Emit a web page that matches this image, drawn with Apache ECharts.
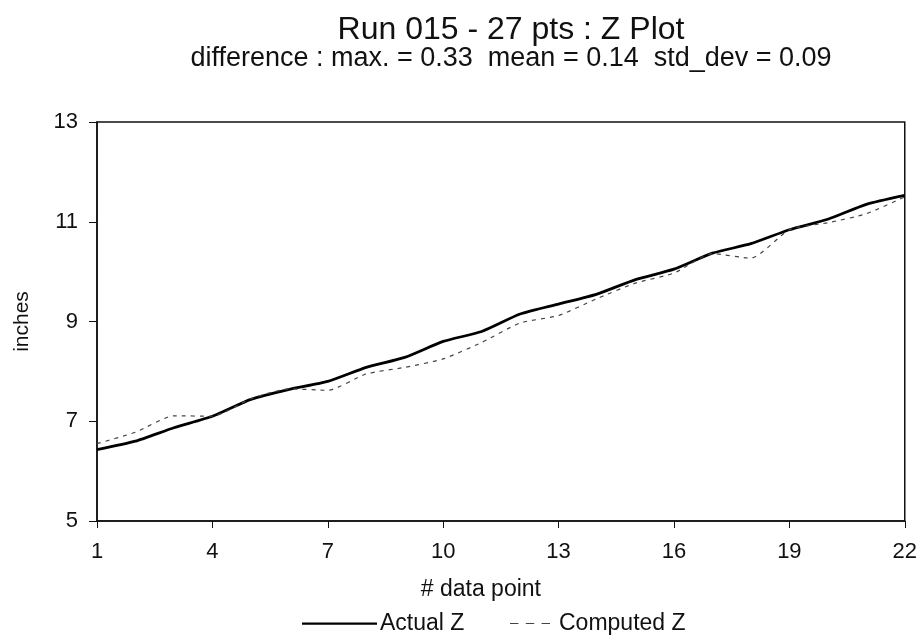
<!DOCTYPE html>
<html><head><meta charset="utf-8">
<script src="https://cdn.jsdelivr.net/npm/echarts@6/dist/echarts.min.js"></script>
<style>html,body{margin:0;padding:0;background:#fff}#c{width:920px;height:636px}</style>
</head><body><div id="c"></div>
<script>
const categories = ['1','2','3','4','5','6','7','8','9','10','11','12','13','14','15','16','17','18','19','20','21','22'];
const actualZ   = [6.43,6.60,6.87,7.10,7.44,7.64,7.80,8.08,8.28,8.60,8.80,9.15,9.35,9.55,9.84,10.05,10.37,10.56,10.84,11.05,11.35,11.53];
const computedZ = [6.55,6.78,7.11,7.10,7.45,7.65,7.62,7.95,8.08,8.25,8.58,8.97,9.12,9.46,9.77,9.97,10.36,10.27,10.84,10.98,11.16,11.50];
const yTicks = {min:5, max:13, interval:2};
const titleText = 'Run 015 - 27 pts : Z Plot';
const subtitleText = 'difference : max. = 0.33  mean = 0.14  std_dev = 0.09';

const chart = echarts.init(document.getElementById('c'));
const font = 'Liberation Sans, Arial, sans-serif';
chart.setOption({
  backgroundColor:'#fff',
  animation:false,
  title:[
    {text:titleText, left:506, textAlign:'center', top:9,
     textStyle:{fontFamily:font,fontSize:32,fontWeight:'normal',color:'#111'}},
    {text:subtitleText, left:506, textAlign:'center', top:40,
     textStyle:{fontFamily:font,fontSize:27,fontWeight:'normal',color:'#111'}}
  ],
  grid:{left:97,right:15,top:122,bottom:115,show:true,borderColor:'#111',borderWidth:1.5},
  legend:[
    {data:[{name:'Actual Z',icon:'path://M0,0H100V3H0Z'}], left:297, top:607,
     itemWidth:75, itemHeight:2.5, itemGap:0,
     textStyle:{fontFamily:font,fontSize:23,color:'#111',padding:[0,0,0,-2]}},
    {data:[{name:'Computed Z',icon:'path://M0,0H8V1H0ZM15,0H23V1H15ZM30,0H38V1H30Z'}], left:505, top:607,
     itemWidth:40, itemHeight:1.5, itemGap:0,
     textStyle:{fontFamily:font,fontSize:23,color:'#111',padding:[0,0,0,4]}}
  ],
  xAxis:{
    type:'category', data:categories, boundaryGap:false,
    name:'# data point', nameLocation:'middle', nameGap:57,
    nameTextStyle:{fontFamily:font,fontSize:23,color:'#111',padding:[0,40,0,0]},
    axisLine:{lineStyle:{color:'#111',width:1.5}},
    axisTick:{interval:2,length:7,inside:false,lineStyle:{color:'#111'}},
    axisLabel:{interval:2,margin:20,fontFamily:font,fontSize:22,color:'#111'},
    splitLine:{show:false}
  },
  yAxis:{
    type:'value', min:yTicks.min, max:yTicks.max, interval:yTicks.interval,
    name:'inches', nameLocation:'middle', nameGap:64, nameRotate:90,
    nameTextStyle:{fontFamily:font,fontSize:21,color:'#111'},
    axisLine:{show:true,lineStyle:{color:'#111',width:1.5}},
    axisTick:{show:true,length:8,lineStyle:{color:'#111'}},
    axisLabel:{margin:19,fontFamily:font,fontSize:22,color:'#111'},
    splitLine:{show:false}
  },
  series:[
    {name:'Actual Z',type:'line',data:actualZ,symbol:'none',smooth:0.2,
     lineStyle:{color:'#000',width:2.8},itemStyle:{color:'#000'}},
    {name:'Computed Z',type:'line',data:computedZ,symbol:'none',smooth:0.2,
     lineStyle:{color:'#444',width:1.2,type:[4,5]},itemStyle:{color:'#444'}}
  ]
});
</script></body></html>
